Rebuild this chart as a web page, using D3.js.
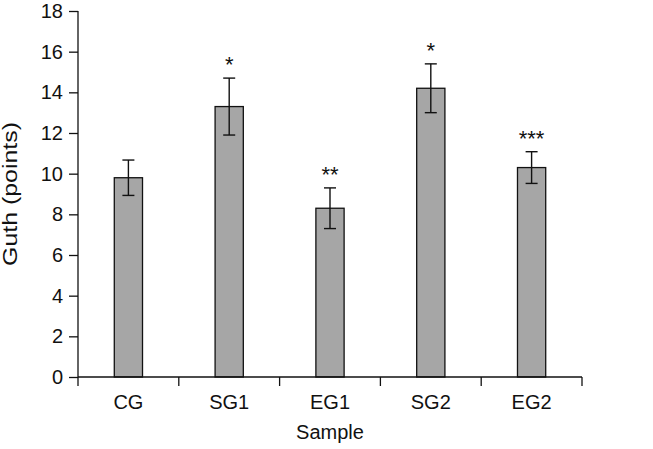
<!DOCTYPE html>
<html><head><meta charset="utf-8">
<script src="https://cdn.jsdelivr.net/npm/d3@7"></script>
<style>body{margin:0;background:#fff}svg{display:block}text{font-family:"Liberation Sans",Arial,sans-serif;fill:#111}</style>
</head><body><svg id="c" width="653" height="449"></svg>
<script>
const categories = ["CG","SG1","EG1","SG2","EG2"];
const means = [9.8, 13.3, 8.3, 14.2, 10.3];
const errors = [0.87, 1.4, 1.0, 1.2, 0.78];
const marks = ["", "*", "**", "*", "***"];
const yTicks = [0,2,4,6,8,10,12,14,16,18];

const svg = d3.select("#c");
const m = {l:78, r:71, t:11, b:72};
const W = 653, H = 449;
const x = d3.scaleBand().domain(categories).range([m.l, W - m.r]);
const y = d3.scaleLinear().domain([0,18]).range([H - m.b, m.t]);
const bw = x.bandwidth() * 0.28;
const cap = 6;

// bars
svg.selectAll("rect.bar").data(categories).join("rect")
  .attr("x", d => x(d) + x.bandwidth()/2 - bw/2)
  .attr("y", (d,i) => y(means[i]))
  .attr("width", bw)
  .attr("height", (d,i) => y(0) - y(means[i]))
  .attr("fill", "#a6a6a6").attr("stroke", "#111").attr("stroke-width", 1.3);

// error bars
const eb = svg.selectAll("g.err").data(categories).join("g")
  .attr("stroke", "#111").attr("stroke-width", 1.4);
eb.append("line")
  .attr("x1", d => x(d) + x.bandwidth()/2).attr("x2", d => x(d) + x.bandwidth()/2)
  .attr("y1", (d,i) => y(means[i] + errors[i])).attr("y2", (d,i) => y(means[i] - errors[i]));
eb.append("line")
  .attr("x1", d => x(d) + x.bandwidth()/2 - cap).attr("x2", d => x(d) + x.bandwidth()/2 + cap)
  .attr("y1", (d,i) => y(means[i] + errors[i])).attr("y2", (d,i) => y(means[i] + errors[i]));
eb.append("line")
  .attr("x1", d => x(d) + x.bandwidth()/2 - cap).attr("x2", d => x(d) + x.bandwidth()/2 + cap)
  .attr("y1", (d,i) => y(means[i] - errors[i])).attr("y2", (d,i) => y(means[i] - errors[i]));

// significance marks
svg.selectAll("text.sig").data(categories).join("text")
  .attr("x", d => x(d) + x.bandwidth()/2)
  .attr("y", (d,i) => y(means[i] + errors[i]) - 6)
  .attr("text-anchor", "middle")
  .style("font-size", "22px")
  .text((d,i) => marks[i]);

// y axis
const ya = svg.append("g").attr("transform", `translate(${m.l},0)`)
  .call(d3.axisLeft(y).tickValues(yTicks).tickSize(9).tickPadding(6).tickFormat(d3.format("d")));
ya.select(".domain").attr("stroke", "#111").attr("stroke-width", 1.3).attr("d", `M0,${y(18)}V${y(0)}`);
ya.selectAll(".tick line").attr("stroke", "#111").attr("stroke-width", 1.3);
ya.selectAll("text").style("font-size", "20px").style("font-family", '"Liberation Sans",Arial,sans-serif').attr("fill", "#111");

// x axis
const xa = svg.append("g").attr("transform", `translate(0,${y(0)})`);
xa.append("line").attr("x1", m.l).attr("x2", W - m.r).attr("y1", 0).attr("y2", 0)
  .attr("stroke", "#111").attr("stroke-width", 1.3);
const bounds = categories.map(d => x(d)).concat([x(categories[categories.length-1]) + x.bandwidth()]);
xa.selectAll("line.tk").data(bounds).join("line")
  .attr("x1", d => d).attr("x2", d => d).attr("y1", 0).attr("y2", 9)
  .attr("stroke", "#111").attr("stroke-width", 1.3);
xa.selectAll("text.xl").data(categories).join("text")
  .attr("x", d => x(d) + x.bandwidth()/2).attr("y", 32)
  .attr("text-anchor", "middle").style("font-size", "20px").text(d => d);

// titles
svg.append("text").attr("x", (m.l + W - m.r)/2).attr("y", 439)
  .attr("text-anchor", "middle").style("font-size", "20px").text("Sample");
svg.append("text").attr("transform", `translate(17,194) rotate(-90)`)
  .attr("text-anchor", "middle").style("font-size", "20px")
  .attr("textLength", 144).attr("lengthAdjust", "spacingAndGlyphs").text("Guth (points)");
</script></body></html>
